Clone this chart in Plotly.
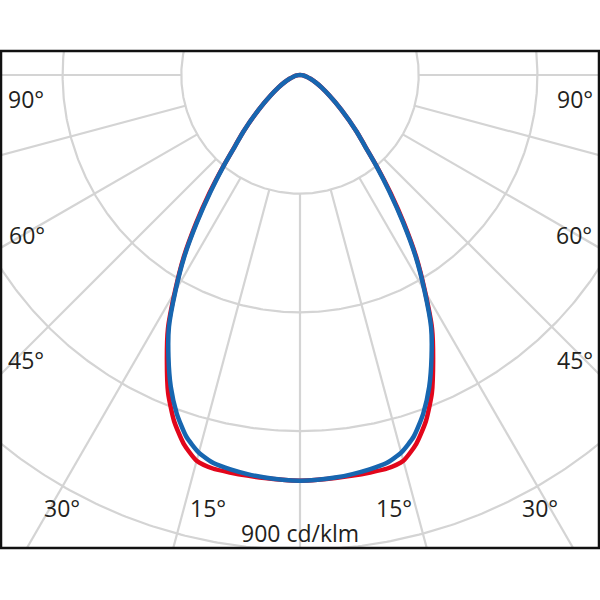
import numpy as np
import plotly.graph_objects as go

# ---- data ----
# angles (deg from nadir) and luminous intensity in cd/klm, symmetric halves
angles_deg = [0, 2.5, 5, 7.5, 10, 12.5, 15, 17.5, 20, 22.5, 25, 27.5, 30, 32.5,
              35, 37.5, 40, 42.5, 45, 50, 55, 60, 65, 70, 75, 80, 85, 90]
blue_c90_c270 = [769, 768, 766, 763, 759, 754, 741, 718, 683, 640, 590, 538, 472, 408,
                 340, 278, 225, 181, 152, 102, 68, 47, 32, 21, 13, 8, 3, 0]
red_c0_c180 = [769, 768, 767, 766, 765, 764, 757, 733, 698, 653, 597, 542, 474, 411,
               344, 282, 227, 182, 152, 102, 68, 47, 32, 21, 13, 8, 3, 0]
ring_values = [225, 450, 675, 900]
spoke_angles = [-90, -75, -60, -45, -30, -15, 0, 15, 30, 45, 60, 75, 90]
scale_label = "900 cd/klm"
angle_label_text = ["90°", "90°", "60°", "60°", "45°", "45°", "30°", "15°", "15°", "30°"]

# ---- layout geometry ----
W, H = 600, 600
L, R, T, B = 1, 1, 51, 52
cx_px, cy_px = 300, 75
px_per_unit = 118.7 / 225.0
plot_w = W - L - R
plot_h = H - T - B
x_range = [-(cx_px - L) / px_per_unit, (W - R - cx_px) / px_per_unit]
y_range = [-(H - B - cy_px) / px_per_unit, (cy_px - T) / px_per_unit]


def px_to_paper(px, py):
    return (px - L) / plot_w, (H - B - py) / plot_h


def to_xy(theta_deg, intensity):
    t = np.radians(np.asarray(theta_deg, dtype=float))
    i = np.asarray(intensity, dtype=float)
    return i * np.sin(t), -i * np.cos(t)


def full_curve(values):
    a = np.asarray(angles_deg, dtype=float)
    v = np.asarray(values, dtype=float)
    th = np.concatenate([-a[::-1], a[1:]])
    vv = np.concatenate([v[::-1], v[1:]])
    return to_xy(th, vv)


fig = go.Figure()

# grid circles
gx, gy = [], []
tt = np.linspace(0, 360, 721)
for rv in ring_values:
    x, y = to_xy(tt, np.full_like(tt, rv))
    gx += list(x) + [None]
    gy += list(y) + [None]
# spokes from first ring outward
for a in spoke_angles:
    x, y = to_xy([a, a], [ring_values[0], 3000])
    gx += list(x) + [None]
    gy += list(y) + [None]
fig.add_trace(go.Scatter(x=gx, y=gy, mode="lines",
                         line=dict(color="#d4d4d4", width=2.2),
                         hoverinfo="skip", showlegend=False))

for vals, col in [(red_c0_c180, "#e2061b"), (blue_c90_c270, "#1766b0")]:
    x, y = full_curve(vals)
    fig.add_trace(go.Scatter(x=x, y=y, mode="lines",
                             line=dict(color=col, width=4.5, shape="spline", smoothing=0.6),
                             hoverinfo="skip", showlegend=False))

label_pos = [(26, 99), (575, 99), (27, 235), (574, 235), (26, 360), (575, 360),
             (62, 508), (208, 508), (394, 508), (540, 508)]
annotations = []
for txt, (px, py) in zip(angle_label_text, label_pos):
    ax_, ay_ = px_to_paper(px, py)
    annotations.append(dict(x=ax_, y=ay_, xref="paper", yref="paper", text=txt,
                            showarrow=False, xanchor="center", yanchor="middle",
                            font=dict(size=23, color="#231f20", family="Open Sans")))
sx, sy = px_to_paper(300, 533)
annotations.append(dict(x=sx, y=sy, xref="paper", yref="paper", text=scale_label,
                        showarrow=False, xanchor="center", yanchor="middle",
                        font=dict(size=23, color="#231f20", family="Open Sans")))

fig.update_layout(
    width=W, height=H,
    margin=dict(l=L, r=R, t=T, b=B, autoexpand=False),
    paper_bgcolor="white", plot_bgcolor="white",
    xaxis=dict(range=x_range, visible=False, fixedrange=True),
    yaxis=dict(range=y_range, visible=False, fixedrange=True),
    annotations=annotations,
    shapes=[dict(type="rect", xref="paper", yref="paper", x0=0, y0=0, x1=1, y1=1,
                 line=dict(color="#111111", width=2.5), layer="above")],
    showlegend=False,
)

fig.write_html("out.html", config={"displayModeBar": False},
               post_script="document.body.style.margin='0px';")
